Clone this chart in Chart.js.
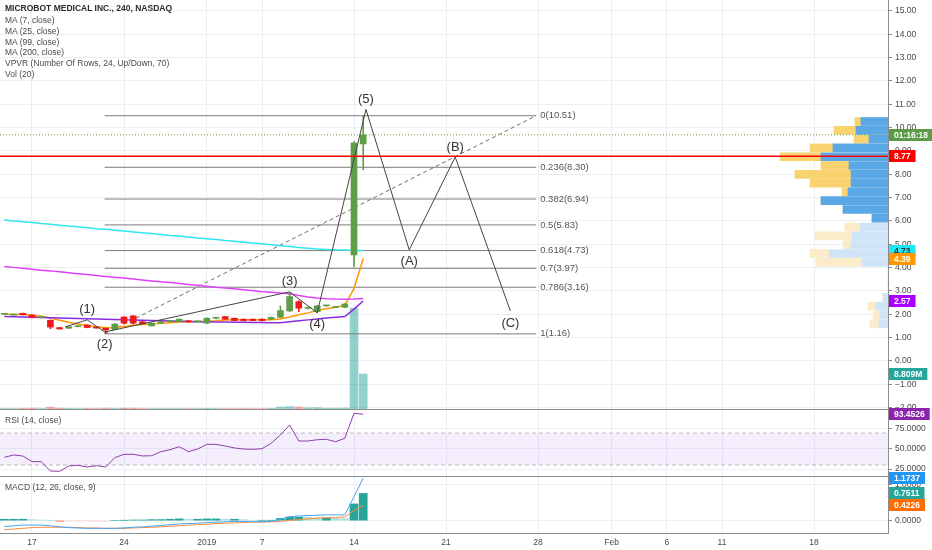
<!DOCTYPE html>
<html>
<head>
<meta charset="utf-8">
<script src="https://cdn.jsdelivr.net/npm/chart.js@4.4.1/dist/chart.umd.min.js"></script>
<style>
  html, body { margin: 0; padding: 0; background: #fff; }
  #wrap { position: relative; width: 932px; height: 550px; overflow: hidden; font-family: "Liberation Sans", Arial, sans-serif; }
  canvas { position: absolute; left: 0; }
  #main { top: 0; }
  #rsi { top: 404px; }
  #macd { top: 471px; }
  .legend { position: absolute; left: 5px; top: 2px; font-size: 8.5px; line-height: 10.8px; color: #4a4a4a; }
  .legend .title { color: #2c2c2c; font-weight: bold; line-height: 13px; }
  .pane-title { position: absolute; left: 5px; font-size: 8.5px; color: #4a4a4a; }
</style>
</head>
<body>
<div id="wrap">
  <canvas id="main" width="932" height="410"></canvas>
  <canvas id="rsi" width="932" height="73"></canvas>
  <canvas id="macd" width="932" height="79"></canvas>
  <div class="legend">
    <div class="title">MICROBOT MEDICAL INC., 240, NASDAQ</div>
    <div>MA (7, close)</div>
    <div>MA (25, close)</div>
    <div>MA (99, close)</div>
    <div>MA (200, close)</div>
    <div>VPVR (Number Of Rows, 24, Up/Down, 70)</div>
    <div>Vol (20)</div>
  </div>
  <div class="pane-title" style="top:415px">RSI (14, close)</div>
  <div class="pane-title" style="top:482px">MACD (12, 26, close, 9)</div>
</div>
<script>
// x axis is in 4h bar units (0 = first visible bar)
const xMin = -0.478;
const xMax = 96.04;
const xTickPos = [3, 13, 22, 28, 38, 48, 58, 66, 72, 78, 88];
const xTickText = ["17", "24", "2019", "7", "14", "21", "28", "Feb", "6", "11", "18"];

const priceTicks = [-2, -1, 0, 1, 2, 3, 4, 5, 6, 7, 8, 9, 10, 11, 12, 13, 14, 15];

const opens = [2.00, 2.00, 2.04, 1.97, 1.86, 1.74, 1.43, 1.40, 1.47, 1.54,
  1.42, 1.40, 1.36, 1.88, 1.93, 1.68, 1.50, 1.62, 1.68, 1.68,
  1.70, 1.68, 1.62, 1.83, 1.90, 1.83, 1.79, 1.79, 1.79, 1.79,
  1.87, 2.14, 2.54, 2.26, 2.11, 2.36, 2.29, 2.30, 4.54, 9.30];
const highs = [2.03, 2.02, 2.05, 1.98, 1.88, 1.76, 1.44, 1.48, 1.49, 1.55,
  1.43, 1.41, 1.60, 1.90, 1.95, 1.69, 1.64, 1.69, 1.70, 1.80,
  1.74, 1.70, 1.85, 1.86, 1.91, 1.84, 1.80, 1.80, 1.80, 1.88,
  2.36, 2.93, 2.58, 2.30, 2.38, 2.38, 2.32, 2.46, 9.40, 10.51];
const lows = [1.98, 1.98, 1.97, 1.84, 1.84, 1.38, 1.36, 1.39, 1.46, 1.42,
  1.40, 1.18, 1.34, 1.60, 1.58, 1.58, 1.50, 1.61, 1.67, 1.67,
  1.64, 1.67, 1.60, 1.80, 1.78, 1.72, 1.72, 1.72, 1.72, 1.78,
  1.85, 2.12, 2.11, 2.22, 2.07, 2.34, 2.28, 2.28, 4.03, 8.19];
const closes = [2.01, 2.00, 1.98, 1.86, 1.87, 1.45, 1.37, 1.47, 1.48, 1.43,
  1.41, 1.33, 1.58, 1.62, 1.62, 1.60, 1.62, 1.68, 1.69, 1.79,
  1.68, 1.69, 1.83, 1.84, 1.79, 1.73, 1.73, 1.73, 1.73, 1.87,
  2.16, 2.76, 2.26, 2.27, 2.36, 2.37, 2.31, 2.44, 9.34, 9.69];
// volume, millions
const volumes = [0.1, 0.1, 0.15, 0.2, 0.1, 0.45, 0.2, 0.15, 0.1, 0.15,
  0.1, 0.2, 0.15, 0.2, 0.2, 0.1, 0.1, 0.1, 0.1, 0.1,
  0.1, 0.1, 0.15, 0.1, 0.1, 0.1, 0.1, 0.1, 0.1, 0.15,
  0.5, 0.6, 0.5, 0.3, 0.35, 0.2, 0.2, 0.25, 25.4, 8.809];

const ma7 = [2.00, 2.00, 1.99, 1.96, 1.92, 1.84, 1.74, 1.66, 1.58, 1.52,
  1.47, 1.42, 1.43, 1.48, 1.53, 1.56, 1.58, 1.61, 1.64, 1.67,
  1.68, 1.69, 1.70, 1.72, 1.75, 1.76, 1.76, 1.76, 1.76, 1.77,
  1.80, 1.88, 1.98, 2.06, 2.16, 2.24, 2.30, 2.38, 3.10, 4.39];
const ma25 = [1.90, 1.89, 1.88, 1.87, 1.86, 1.85, 1.84, 1.83, 1.82, 1.81,
  1.80, 1.79, 1.78, 1.76, 1.75, 1.74, 1.73, 1.72, 1.71, 1.70,
  1.69, 1.68, 1.68, 1.67, 1.67, 1.66, 1.66, 1.65, 1.65, 1.64,
  1.64, 1.68, 1.72, 1.76, 1.80, 1.84, 1.87, 1.90, 2.22, 2.57];
const ma99 = [4.05, 4.01, 3.97, 3.93, 3.89, 3.86, 3.82, 3.78, 3.74, 3.70,
  3.66, 3.62, 3.59, 3.55, 3.51, 3.47, 3.43, 3.39, 3.36, 3.32,
  3.28, 3.24, 3.20, 3.16, 3.13, 3.09, 3.05, 3.01, 2.97, 2.94,
  2.91, 2.88, 2.80, 2.74, 2.70, 2.67, 2.65, 2.64, 2.65, 2.68];
const ma200 = [6.04, 6.00, 5.97, 5.93, 5.89, 5.86, 5.82, 5.78, 5.75, 5.71,
  5.67, 5.64, 5.60, 5.57, 5.53, 5.49, 5.46, 5.42, 5.38, 5.35,
  5.31, 5.27, 5.24, 5.20, 5.16, 5.13, 5.09, 5.05, 5.02, 4.98,
  4.94, 4.90, 4.86, 4.83, 4.80, 4.78, 4.76, 4.75, 4.73, 4.73];

const fibRatios = ["0", "0.236", "0.382", "0.5", "0.618", "0.7", "0.786", "1"];
const fibPrices = [10.51, 8.30, 6.94, 5.83, 4.73, 3.97, 3.16, 1.16];
const fibStart = 10.9;
const fibEnd = 57.8;

const waveX = [6.6, 9.0, 10.9, 31.0, 34.0, 39.3, 44.0, 49.0, 55.0];
const waveY = [1.46, 1.76, 1.24, 2.96, 2.06, 10.78, 4.76, 8.74, 2.14];
const waveLabels = ["", "(1)", "(2)", "(3)", "(4)", "(5)", "(A)", "(B)", "(C)"];

// volume profile, 24 rows from the top row down (arbitrary units)
const vpUp = [27, 32, 19, 55, 67, 39, 37, 37, 40, 67, 45, 16,
  28, 36, 37, 59, 26, 0, 0, 0, 5, 12, 8, 9];
const vpDown = [6, 22, 15, 23, 41, 28, 56, 41, 6, 0, 0, 0,
  15, 37, 8, 19, 46, 0, 0, 0, 0, 8, 7, 9];
const vpTop = 10.45;
const vpRow = 0.377;
const vpValueRows = 12;

const rsi = [39.6, 42.5, 41.3, 34.2, 34.2, 22.5, 22.1, 28.8, 29.6, 27.5,
  29.2, 27.5, 39.2, 43.4, 43.4, 41.3, 41.6, 46.6, 49.1, 52.9,
  46.6, 50.0, 55.8, 55.8, 53.8, 51.3, 50.0, 49.6, 50.4, 57.1,
  67.5, 80.0, 60.0, 60.0, 61.6, 62.1, 59.1, 63.4, 94.6, 93.45];
const rsiTicks = [25, 50, 75];
const rsiBand = [30, 70];

const macd = [-0.16, -0.14, -0.12, -0.12, -0.12, -0.14, -0.17, -0.19, -0.20, -0.21,
  -0.21, -0.21, -0.21, -0.20, -0.18, -0.17, -0.15, -0.13, -0.11, -0.09,
  -0.08, -0.07, -0.05, -0.04, -0.03, -0.02, -0.02, -0.03, -0.03, -0.02,
  0.04, 0.11, 0.13, 0.14, 0.15, 0.16, 0.16, 0.16, 0.66, 1.17];
const signal = [-0.25, -0.23, -0.21, -0.19, -0.18, -0.18, -0.18, -0.18, -0.19, -0.20,
  -0.20, -0.21, -0.21, -0.21, -0.20, -0.19, -0.18, -0.17, -0.15, -0.14,
  -0.12, -0.11, -0.10, -0.08, -0.07, -0.06, -0.05, -0.04, -0.04, -0.03,
  -0.02, 0.01, 0.03, 0.05, 0.07, 0.08, 0.09, 0.10, 0.28, 0.42];
const hist = [0.04, 0.04, 0.04, 0.03, 0.02, 0.01, -0.01, -0.01, -0.01, -0.01,
  -0.01, -0.01, 0.00, 0.01, 0.02, 0.02, 0.03, 0.03, 0.04, 0.05,
  0.04, 0.04, 0.05, 0.05, 0.04, 0.04, 0.03, 0.01, 0.01, 0.01,
  0.06, 0.10, 0.10, 0.09, 0.08, 0.08, 0.07, 0.06, 0.46, 0.75];
const macdTicks = [0, 1];

const lastPrice = 9.69;
const alertPrice = 8.77;

// ---- style ----
const FONT = '"Liberation Sans", Arial, sans-serif';
const gridColor = "#eceef3";
const paneLine = "#8c8c8c";
const textColor = "#4a4a4a";
const upColor = "#5e9e48";
const downColor = "#ee1a1a";

const fmt = (v, d) => (v < 0 ? "\u2212" + Math.abs(v).toFixed(d) : v.toFixed(d));

const xAxis = (showLabels) => ({
  type: "linear",
  min: xMin,
  max: xMax,
  offset: false,
  grid: { color: gridColor, drawTicks: false, offset: false },
  border: { display: true, color: paneLine },
  ticks: {
    display: showLabels,
    autoSkip: false,
    maxRotation: 0,
    padding: 5,
    color: textColor,
    font: { family: FONT, size: 8.5 },
    callback: (v, i) => xTickText[i],
  },
  afterBuildTicks: (s) => { s.ticks = xTickPos.map((v) => ({ value: v })); },
  afterFit: (s) => {
    s.height = showLabels ? 17 : 1;
    s.paddingLeft = 0;
    s.paddingRight = 0;
  },
});

const rightAxis = (min, max, ticks, digits) => ({
  type: "linear",
  position: "right",
  min,
  max,
  offset: false,
  grid: { color: gridColor, tickColor: "#8a8a8a", tickLength: 4, offset: false },
  border: { color: paneLine },
  ticks: {
    autoSkip: false,
    padding: 3,
    color: textColor,
    font: { family: FONT, size: 8.5 },
    callback: (v) => fmt(v, digits),
  },
  afterBuildTicks: (s) => { s.ticks = ticks.map((v) => ({ value: v })); },
  afterFit: (s) => {
    s.width = 44;
    s.paddingTop = 0;
    s.paddingBottom = 0;
  },
});

const tagPlugin = (tags) => ({
  id: "sideTags",
  afterDraw(chart) {
    const { ctx, chartArea } = chart;
    ctx.save();
    ctx.font = `bold 8.5px ${FONT}`;
    ctx.textBaseline = "middle";
    tags.forEach((t) => {
      const y = Math.round(chart.scales[t.axis].getPixelForValue(t.value));
      const w = ctx.measureText(t.text).width + 10;
      ctx.fillStyle = t.bg;
      ctx.fillRect(chartArea.right + 1, y - 6, w, 12);
      ctx.fillStyle = t.fg || "#fff";
      ctx.fillText(t.text, chartArea.right + 6, y + 0.5);
    });
    ctx.restore();
  },
});

const annotate = {
  id: "annotate",
  afterDatasetsDraw(chart) {
    const { ctx, scales } = chart;
    const { x, y } = scales;
    ctx.save();
    ctx.textBaseline = "middle";
    ctx.fillStyle = "#555";
    ctx.font = `9.5px ${FONT}`;
    fibRatios.forEach((r, k) => {
      ctx.fillText(`${r}(${fibPrices[k].toFixed(2)})`, x.getPixelForValue(fibEnd) + 4, y.getPixelForValue(fibPrices[k]));
    });
    ctx.fillStyle = "#333";
    ctx.font = `13px ${FONT}`;
    ctx.textAlign = "center";
    waveLabels.forEach((t, k) => {
      if (!t) return;
      const above = waveY[k] > waveY[k - 1];
      const px = x.getPixelForValue(waveX[k]);
      const py = y.getPixelForValue(waveY[k]) + (above ? -10 : 12);
      ctx.fillText(t, px, py);
    });
    ctx.restore();
  },
};

const bars = opens.map((_, i) => i);
const isUp = (i) => closes[i] >= opens[i];
const series = (vals) => vals.map((v, i) => ({ x: i, y: v }));
const hline = (v) => [{ x: xMin, y: v }, { x: xMax, y: v }];
const maLine = (vals, color, order) => ({
  type: "line", data: series(vals), borderColor: color, borderWidth: 1.5,
  pointRadius: 0, tension: 0, order,
});

const fibData = [];
fibPrices.forEach((p) => {
  fibData.push({ x: fibStart, y: p }, { x: fibEnd, y: p }, { x: fibEnd, y: null });
});

const vpCenter = vpUp.map((_, k) => vpTop - vpRow * (k + 0.5));

const baseOptions = (padTop) => ({
  responsive: false,
  animation: false,
  events: [],
  layout: { padding: { top: padTop, left: 0, right: 0, bottom: 0 } },
  plugins: { legend: { display: false }, tooltip: { enabled: false } },
});

// ---- main price pane ----
new Chart(document.getElementById("main"), {
  type: "line",
  data: {
    datasets: [
      {
        type: "bar", indexAxis: "y", xAxisID: "xvp", yAxisID: "y", grouped: false, barThickness: 8,
        data: vpUp.map((u, k) => ({ x: [0, u], y: vpCenter[k] })),
        backgroundColor: vpUp.map((_, k) => (k < vpValueRows ? "#5aa8e6" : "#cfe4f7")),
        order: 20,
      },
      {
        type: "bar", indexAxis: "y", xAxisID: "xvp", yAxisID: "y", grouped: false, barThickness: 8,
        data: vpDown.map((d, k) => ({ x: [vpUp[k], vpUp[k] + d], y: vpCenter[k] })),
        backgroundColor: vpDown.map((_, k) => (k < vpValueRows ? "#f9d36f" : "#fcebc8")),
        order: 20,
      },
      {
        type: "bar", yAxisID: "yVol", grouped: false, barThickness: 8,
        data: series(volumes),
        backgroundColor: bars.map((i) => (isUp(i) ? "rgba(38,166,154,0.5)" : "rgba(239,83,80,0.5)")),
        order: 19,
      },
      {
        type: "line", data: fibData, borderColor: "#7b7b7b", borderWidth: 1,
        pointRadius: 0, spanGaps: false, order: 15,
      },
      {
        type: "line", data: [{ x: fibStart, y: fibPrices[7] }, { x: fibEnd, y: fibPrices[0] }],
        borderColor: "#6d6d6d", borderWidth: 1, borderDash: [4, 3], pointRadius: 0, order: 15,
      },
      {
        type: "line", data: hline(lastPrice), borderColor: "#6ba54b", borderWidth: 1,
        borderDash: [1, 2], pointRadius: 0, order: 14,
      },
      {
        type: "line", data: hline(alertPrice), borderColor: "#ff0000", borderWidth: 1.5,
        pointRadius: 0, order: 1,
      },
      maLine(ma200, "#2fe6ef", 10),
      maLine(ma99, "#e040fb", 10),
      maLine(ma25, "#8a2be2", 10),
      maLine(ma7, "#ff9800", 10),
      {
        type: "bar", grouped: false, barThickness: 1,
        data: bars.map((i) => ({ x: i, y: [lows[i], highs[i]] })),
        backgroundColor: bars.map((i) => (isUp(i) ? upColor : downColor)),
        order: 6,
      },
      {
        type: "bar", grouped: false, barThickness: 6, minBarLength: 1,
        data: bars.map((i) => ({ x: i, y: [opens[i], closes[i]] })),
        backgroundColor: bars.map((i) => (isUp(i) ? upColor : downColor)),
        order: 5,
      },
      {
        type: "line", data: waveX.map((x, k) => ({ x, y: waveY[k] })),
        borderColor: "#444", borderWidth: 1, pointRadius: 0, tension: 0, order: 2,
      },
    ],
  },
  options: {
    ...baseOptions(0),
    scales: {
      x: xAxis(false),
      y: rightAxis(-2.06, 15.47, priceTicks, 2),
      yVol: { type: "linear", display: false, min: 0, max: 102.9 },
      xvp: { type: "linear", display: false, reverse: true, min: 0, max: 888 },
    },
  },
  plugins: [annotate, tagPlugin([
    { axis: "y", value: lastPrice, text: "01:16:18", bg: "#5b9a47" },
    { axis: "y", value: alertPrice, text: "8.77", bg: "#ff0000" },
    { axis: "y", value: 4.73, text: "4.73", bg: "#1de9f6", fg: "#333" },
    { axis: "y", value: 4.39, text: "4.39", bg: "#ff9800" },
    { axis: "y", value: 2.57, text: "2.57", bg: "#aa00ff" },
    { axis: "yVol", value: 8.809, text: "8.809M", bg: "#26a69a" },
  ])],
});

// ---- RSI pane ----
new Chart(document.getElementById("rsi"), {
  type: "line",
  data: {
    datasets: [
      {
        data: hline(rsiBand[1]), borderColor: "#bdbdbd", borderWidth: 1, borderDash: [4, 3],
        pointRadius: 0, fill: { value: rsiBand[0] }, backgroundColor: "rgba(156,100,240,0.1)", order: 3,
      },
      {
        data: hline(rsiBand[0]), borderColor: "#bdbdbd", borderWidth: 1, borderDash: [4, 3],
        pointRadius: 0, order: 3,
      },
      {
        data: series(rsi), borderColor: "#8e3fa6", borderWidth: 1, pointRadius: 0, tension: 0, order: 1,
      },
    ],
  },
  options: {
    ...baseOptions(6),
    scales: { x: xAxis(false), y: rightAxis(16.25, 98.75, rsiTicks, 4) },
  },
  plugins: [tagPlugin([{ axis: "y", value: 93.4526, text: "93.4526", bg: "#8e24aa" }])],
});

// ---- MACD pane ----
new Chart(document.getElementById("macd"), {
  type: "line",
  data: {
    datasets: [
      {
        type: "bar", grouped: false, barThickness: 8,
        data: series(hist),
        backgroundColor: hist.map((h, i) => {
          const prev = i ? hist[i - 1] : h;
          if (h >= 0) return h >= prev ? "#26a69a" : "#b2dfdb";
          return h >= prev ? "#ffcdd2" : "#ef5350";
        }),
        order: 3,
      },
      { data: series(signal), borderColor: "#ff8a3d", borderWidth: 1, pointRadius: 0, tension: 0, order: 2 },
      { data: series(macd), borderColor: "#42a5f5", borderWidth: 1, pointRadius: 0, tension: 0, order: 1 },
    ],
  },
  options: {
    ...baseOptions(6),
    scales: { x: xAxis(true), y: rightAxis(-0.338, 1.2005, macdTicks, 4) },
  },
  plugins: [tagPlugin([
    { axis: "y", value: 1.1737, text: "1.1737", bg: "#2196f3" },
    { axis: "y", value: 0.7511, text: "0.7511", bg: "#26a69a" },
    { axis: "y", value: 0.4226, text: "0.4226", bg: "#ff6d00" },
  ])],
});
</script>
</body>
</html>
